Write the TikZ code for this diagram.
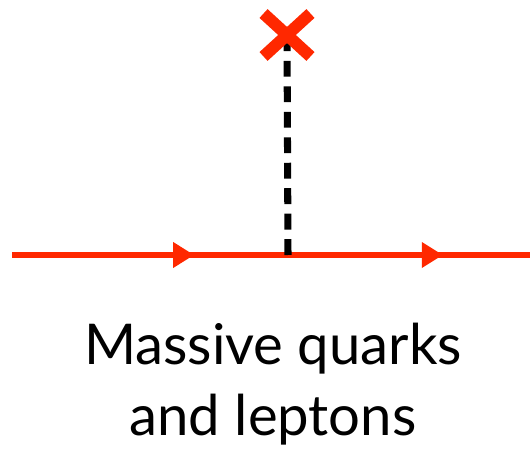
\documentclass[tikz,border=0pt]{standalone}
\usepackage{fontspec}
\setmainfont{Lato}
\usetikzlibrary{arrows.meta,decorations.markings,shapes.misc}

\definecolor{massred}{RGB}{255,40,0}

\tikzset{
    fermion/.style={draw=massred, line width=2.9pt,
        postaction={decorate},
        decoration={markings,
            mark=at position #1 with {\arrow[massred]{Triangle[length=12pt,width=14pt]}}}},
    scalar/.style={draw=black, line width=4pt, dash pattern=on 9pt off 5.5pt},
    mass/.style={cross out, draw=massred, line width=6.8pt, inner sep=0pt,
        minimum width=0.7cm, minimum height=0.62cm},
    caption/.style={align=center, inner sep=0pt, font=\fontsize{32}{40}\selectfont}
}

\begin{document}
\begin{tikzpicture}[x=0.02cm, y=-0.02cm]

\useasboundingbox (0,0) rectangle (530,452);

% fermion line
\coordinate (left) at (12,255);
\coordinate (vtx) at (288,255);
\coordinate (right) at (530,255);

\draw[fermion=0.66] (left) -- (vtx);
\draw[fermion=0.64] (vtx) -- (right);

% mass insertion
\coordinate (masspt) at (287,35);
\draw[scalar] (vtx) -- (masspt);
\node[mass] (mass) at (masspt) {};

% caption
\node[caption] (caption) at (273,384)
{Massive quarks\\and leptons};

\end{tikzpicture}
\end{document}
